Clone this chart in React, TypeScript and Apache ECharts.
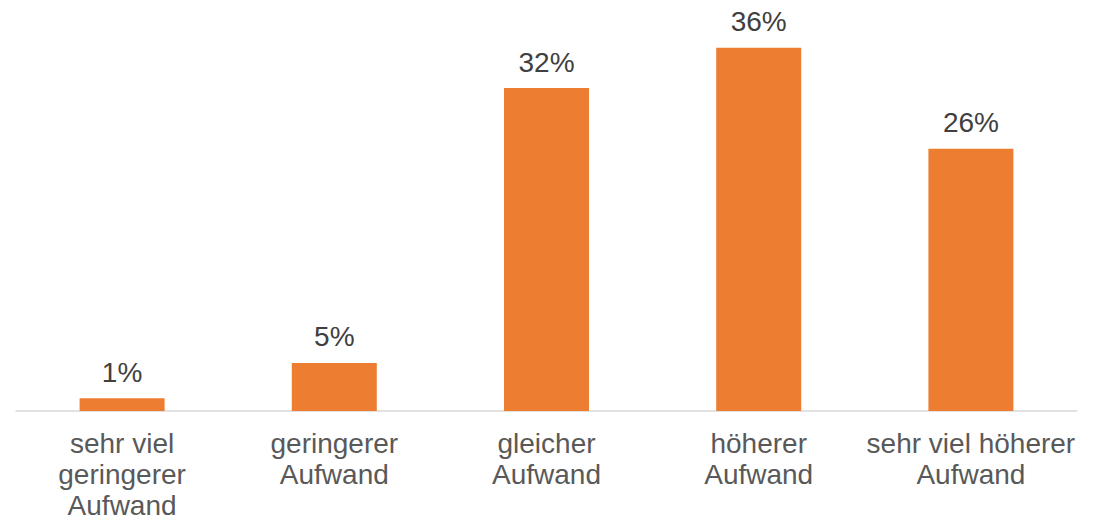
import React, { useEffect, useRef } from "react";
import * as echarts from "echarts";

const categories = [
  "sehr viel\ngeringerer\nAufwand",
  "geringerer\nAufwand",
  "gleicher\nAufwand",
  "höherer\nAufwand",
  "sehr viel höherer\nAufwand",
];
const shares = [1.26, 4.76, 32.0, 36.0, 26.0];

const FONT = "'Liberation Sans', Arial, sans-serif";

export default function App() {
  const ref = useRef<HTMLDivElement>(null);
  useEffect(() => {
    if (!ref.current) return;
    const chart = echarts.init(ref.current, undefined, { renderer: "svg" });
    chart.setOption({
      animation: false,
      grid: {
        left: 16,
        right: 25,
        top: 7.4,
        bottom: 110,
        containLabel: false,
        outerBoundsMode: "none",
      },
      xAxis: {
        type: "category",
        data: categories,
        axisLine: { show: true, lineStyle: { color: "#d9d9d9", width: 1.5 } },
        axisTick: { show: false },
        axisLabel: {
          interval: 0,
          color: "#595959",
          fontSize: 28,
          fontFamily: FONT,
          lineHeight: 31,
          margin: 17,
        },
      },
      yAxis: {
        type: "value",
        min: 0,
        max: 40,
        show: false,
        splitLine: { show: false },
      },
      series: [
        {
          type: "bar",
          data: shares,
          barWidth: 85,
          itemStyle: { color: "#ED7D31" },
          label: {
            show: true,
            position: "top",
            distance: 12,
            color: "#404040",
            fontSize: 28,
            fontFamily: FONT,
            formatter: (p: any) => Math.round(p.value) + "%",
          },
        },
      ],
    });
    return () => chart.dispose();
  }, []);
  return <div ref={ref} style={{ width: 1102, height: 521, position: "absolute", left: 0, top: 0 }} />;
}
